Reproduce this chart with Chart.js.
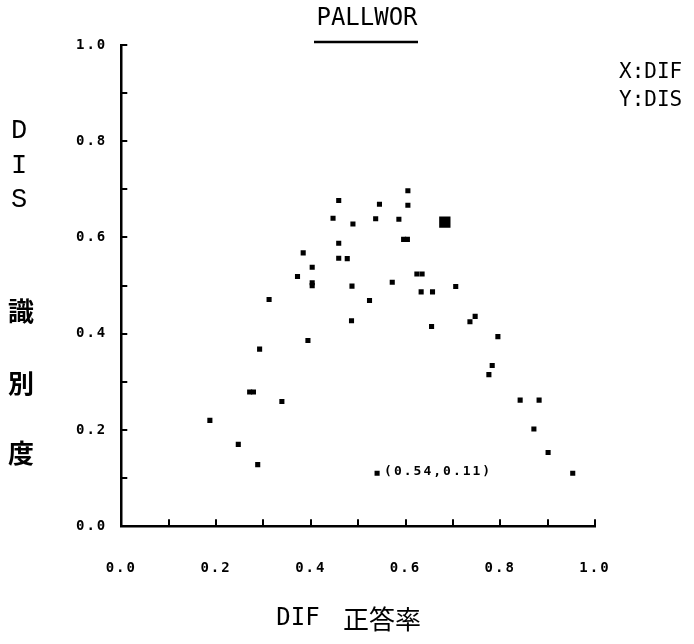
<!DOCTYPE html>
<html>
<head>
<meta charset="utf-8">
<script src="https://cdn.jsdelivr.net/npm/chart.js@4"></script>
<style>
  body { margin: 0; background: #fff; }
  #wrap { width: 694px; height: 644px; }
</style>
</head>
<body>
<div id="wrap"><canvas id="myChart" width="694" height="644"></canvas></div>
<script>
// data: item difficulty (DIF) and discrimination (DIS)
const difValues = [0.187, 0.247, 0.271, 0.279, 0.288, 0.292, 0.312, 0.339, 0.372, 0.384,
  0.394, 0.403, 0.403, 0.403, 0.447, 0.459, 0.459, 0.459, 0.477, 0.486,
  0.487, 0.489, 0.524, 0.537, 0.545, 0.54, 0.572, 0.586, 0.596, 0.604,
  0.605, 0.605, 0.624, 0.635, 0.633, 0.657, 0.655, 0.706, 0.736, 0.747,
  0.776, 0.783, 0.795, 0.842, 0.882, 0.871, 0.901, 0.953];
const disValues = [0.220, 0.170, 0.279, 0.279, 0.128, 0.368, 0.471, 0.259, 0.519, 0.568,
  0.386, 0.538, 0.506, 0.500, 0.640, 0.677, 0.588, 0.557, 0.556, 0.427,
  0.499, 0.628, 0.469, 0.639, 0.669, 0.11, 0.507, 0.638, 0.596, 0.596,
  0.697, 0.667, 0.524, 0.524, 0.487, 0.487, 0.415, 0.498, 0.425, 0.436,
  0.315, 0.334, 0.394, 0.262, 0.262, 0.202, 0.153, 0.110];
// highlighted item (large square)
const meanDif = [0.683];
const meanDis = [0.632];
// annotated point
const noteIndex = 25;
const noteText = "(0.54,0.11)";

const titleText = "PALLWOR";
const legendLines = ["X:DIF", "Y:DIS"];
const yTitleChars = ["D", "I", "S"];
const yTitleKanji = ["識", "別", "度"];
const xTitle = ["DIF", "正答率"];

const monoFont = '"DejaVu Sans Mono", monospace';
const cjkFont = '"Noto Sans CJK JP", sans-serif';

// custom decorations: inward tick marks, title, legend, axis titles
const decor = {
  id: "decor",
  beforeLayout(chart) {
    chart.ctx.letterSpacing = "2px";
  },
  afterDraw(chart) {
    const { ctx, scales: { x, y } } = chart;
    ctx.save();
    ctx.letterSpacing = "0px";
    ctx.strokeStyle = "#000";
    ctx.lineWidth = 2;

    // tick marks pointing into the plot
    const x0 = x.getPixelForValue(0);
    const y0 = y.getPixelForValue(0);
    y.ticks.forEach(t => {
      if (t.value <= 0) return;
      const py = Math.round(y.getPixelForValue(t.value));
      ctx.beginPath();
      ctx.moveTo(x0, py);
      ctx.lineTo(x0 + 6, py);
      ctx.stroke();
    });
    x.ticks.forEach(t => {
      if (t.value <= 0) return;
      const px = Math.round(x.getPixelForValue(t.value));
      ctx.beginPath();
      ctx.moveTo(px, y0);
      ctx.lineTo(px, y0 - 7);
      ctx.stroke();
    });

    ctx.fillStyle = "#000";
    ctx.textBaseline = "middle";

    // title with underline
    ctx.textAlign = "center";
    ctx.font = "24px " + monoFont;
    ctx.fillText(titleText, 367, 19);
    ctx.lineWidth = 2.5;
    ctx.beginPath();
    ctx.moveTo(314, 42);
    ctx.lineTo(418, 42);
    ctx.stroke();

    // legend text
    ctx.textAlign = "left";
    ctx.font = "21px " + monoFont;
    ctx.fillText(legendLines[0], 619, 73);
    ctx.fillText(legendLines[1], 619, 101);

    // vertical y title
    ctx.textAlign = "center";
    ctx.font = "27px \"Liberation Mono\", monospace";
    const dY = [131, 166, 200];
    yTitleChars.forEach((c, i) => ctx.fillText(c, 19, dY[i]));
    ctx.font = "bold 26px " + cjkFont;
    const kY = [311, 383, 453];
    yTitleKanji.forEach((c, i) => ctx.fillText(c, 21, kY[i]));

    // x title
    ctx.font = "24px " + monoFont;
    ctx.fillText(xTitle[0], 298, 619);
    ctx.font = "26px " + cjkFont;
    ctx.fillText(xTitle[1], 382, 619);

    // point annotation
    const pt = chart.getDatasetMeta(0).data[noteIndex];
    ctx.textAlign = "left";
    ctx.letterSpacing = "2px";
    ctx.font = "bold 13px " + monoFont;
    ctx.fillText(noteText, pt.x + 7, pt.y - 2);
    ctx.restore();
  }
};

const tickFont = { family: monoFont, size: 14, weight: "bold" };
const evenLabel = v => (Math.round(v * 10) % 2 === 0 ? v.toFixed(1) : "");

const config = {
  type: "scatter",
  data: {
    datasets: [
      {
        data: difValues.map((v, i) => ({ x: v, y: disValues[i] })),
        pointStyle: "rect",
        pointRadius: 3.6,
        backgroundColor: "#000",
        borderWidth: 0,
      },
      {
        data: meanDif.map((v, i) => ({ x: v, y: meanDis[i] })),
        pointStyle: "rect",
        pointRadius: 8,
        backgroundColor: "#000",
        borderWidth: 0,
      },
    ],
  },
  options: {
    responsive: false,
    animation: false,
    events: [],
    layout: {
      padding: { left: 62, right: 99, top: 45, bottom: 33 },
    },
    scales: {
      x: {
        type: "linear",
        min: 0,
        max: 1,
        ticks: {
          stepSize: 0.1,
          padding: 34,
          maxRotation: 0,
          color: "#000",
          font: tickFont,
          callback: evenLabel,
        },
        grid: { display: true, drawOnChartArea: false, drawTicks: false },
        border: { display: true, color: "#000", width: 2.5 },
      },
      y: {
        min: 0,
        max: 1,
        ticks: {
          stepSize: 0.1,
          padding: 14,
          color: "#000",
          font: tickFont,
          callback: evenLabel,
        },
        grid: { display: true, drawOnChartArea: false, drawTicks: false },
        border: { display: true, color: "#000", width: 2.5 },
      },
    },
    plugins: {
      legend: { display: false },
      tooltip: { enabled: false },
    },
  },
  plugins: [decor],
};

const myChart = new Chart(document.getElementById("myChart"), config);
</script>
</body>
</html>
